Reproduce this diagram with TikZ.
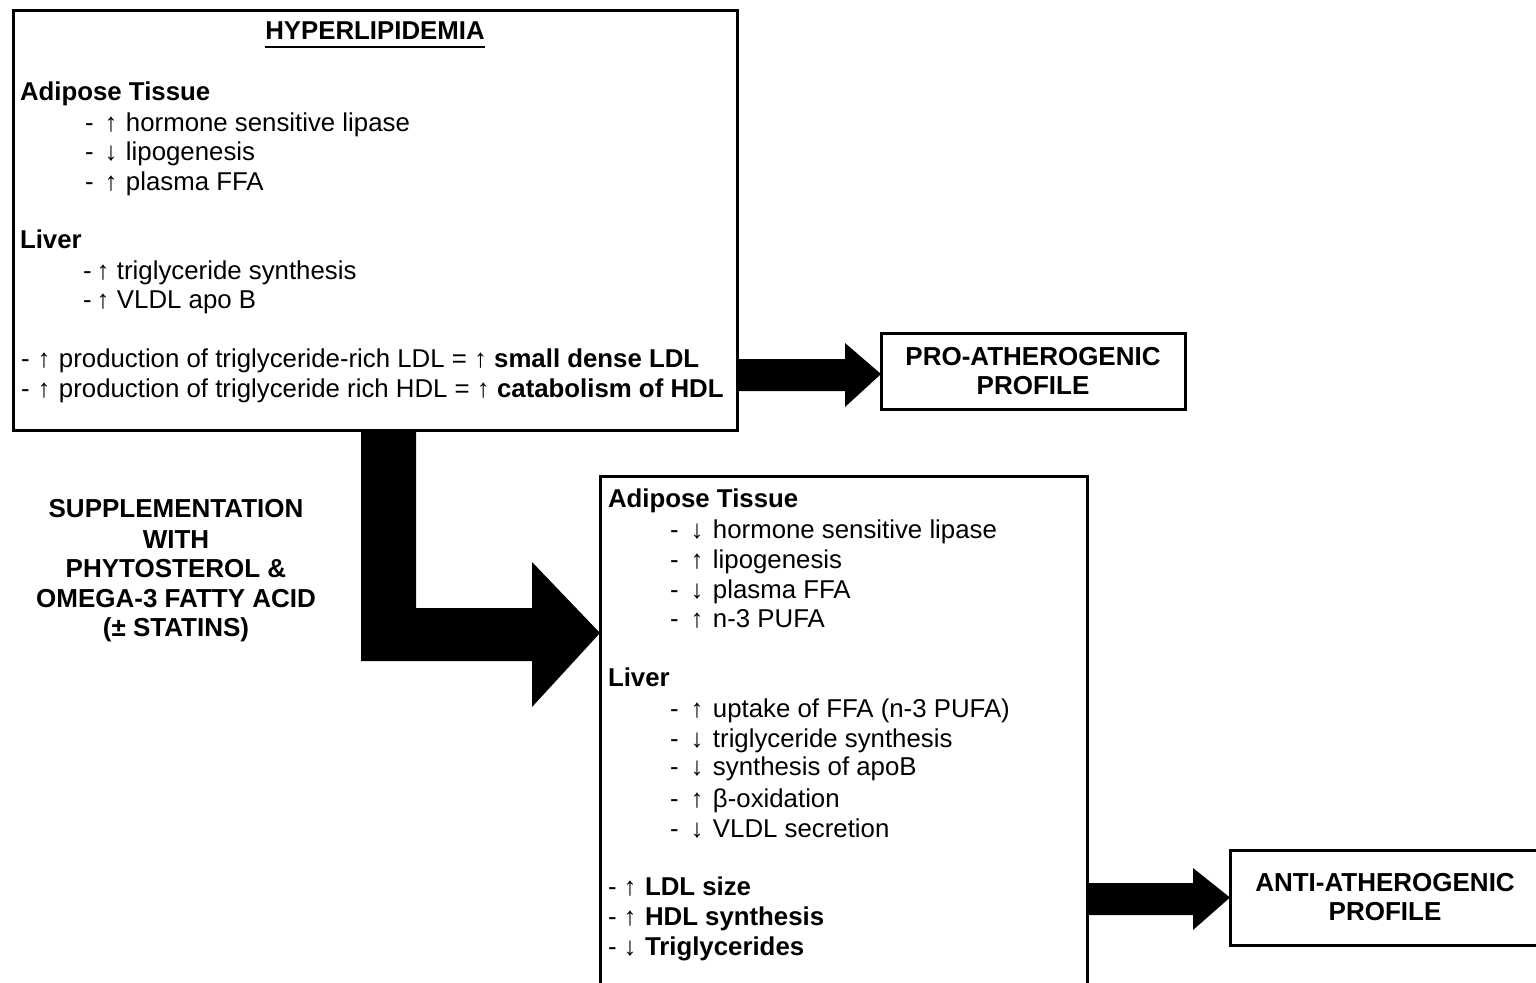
\documentclass[tikz,border=0pt]{standalone}
\usepackage{fontspec}
\setmainfont{Liberation Sans}
\usetikzlibrary{calc}
\newcommand\bodyf{\fontsize{12.9pt}{14.9pt}\selectfont}
\newcommand\capf{\fontsize{13pt}{14.5pt}\selectfont\bfseries}
\newcommand\itm[4]{\makebox[#1][l]{-}\makebox[#2][c]{#3}#4}
\begin{document}
\begin{tikzpicture}[x=0.5pt,y=-0.5pt,
  box/.style={draw, line width=1.5pt, inner sep=0pt, outer sep=0pt, anchor=north west},
  txt/.style={anchor=base west, inner sep=0pt, outer sep=0pt, font=\bodyf},
  hd/.style={txt, font=\bodyf\bfseries},
  capbox/.style={inner sep=0pt, font=\capf, align=center},
  captxt/.style={anchor=base, inner sep=0pt, font=\capf},
  fat/.style={fill=black}]
\clip (0,0) rectangle (1536,982);
\fill[white] (0,0) rectangle (1536,982);
% boxes
\node[box, minimum width=362pt, minimum height=210pt] (hyper) at (13,10) {};
\node[box, capbox, minimum width=152pt, minimum height=38pt] (pro) at (881,333) {PRO-ATHEROGENIC\\PROFILE};
\node[box, minimum width=243.5pt, minimum height=270pt] (lower) at (600,476) {};
\node[box, capbox, minimum width=155pt, minimum height=47.5pt] (anti) at (1230,850) {ANTI-ATHEROGENIC\\PROFILE};
% top box text
\node[anchor=base, inner sep=0pt, font=\bodyf\bfseries] (title) at (375,39) {HYPERLIPIDEMIA};
\draw[line width=1.1pt] ($(title.base west)+(0,8)$) -- ($(title.base east)+(0,8)$);
\node[hd] (h1) at (20,100) {Adipose Tissue};
\node[txt] (h2) at (85,131) {\itm{5.5pt}{15pt}{↑}{hormone sensitive lipase}};
\node[txt] (h3) at (85,160) {\itm{5.5pt}{15pt}{↓}{lipogenesis}};
\node[txt] (h4) at (85,190) {\itm{5.5pt}{15pt}{↑}{plasma FFA}};
\node[hd] (h5) at (20,248) {Liver};
\node[txt] (h6) at (83,279) {\itm{3pt}{14pt}{↑}{triglyceride synthesis}};
\node[txt] (h7) at (83,308) {\itm{3pt}{14pt}{↑}{VLDL apo B}};
\node[txt] (h8) at (21,367) {\itm{4pt}{15pt}{↑}{production of triglyceride-rich LDL = ↑ \textbf{small dense LDL}}};
\node[txt] (h9) at (21,397) {\itm{4pt}{15pt}{↑}{production of triglyceride rich HDL = ↑ \textbf{catabolism of HDL}}};
% supplementation text
\node[captxt] (s1) at (176,517) {SUPPLEMENTATION};
\node[captxt] (s2) at (176,548) {WITH};
\node[captxt] (s3) at (176,577) {PHYTOSTEROL \&};
\node[captxt] (s4) at (176,607) {OMEGA-3 FATTY ACID};
\node[captxt] (s5) at (176,636) {(± STATINS)};
% lower box text
\node[hd] (l1) at (608,507) {Adipose Tissue};
\node[txt] (l2) at (670,538) {\itm{5.5pt}{16pt}{↓}{hormone sensitive lipase}};
\node[txt] (l3) at (670,568) {\itm{5.5pt}{16pt}{↑}{lipogenesis}};
\node[txt] (l4) at (670,598) {\itm{5.5pt}{16pt}{↓}{plasma FFA}};
\node[txt] (l5) at (670,627) {\itm{5.5pt}{16pt}{↑}{n-3 PUFA}};
\node[hd] (l6) at (608,686) {Liver};
\node[txt] (l7) at (670,717) {\itm{5.5pt}{16pt}{↑}{uptake of FFA (n-3 PUFA)}};
\node[txt] (l8) at (670,747) {\itm{5.5pt}{16pt}{↓}{triglyceride synthesis}};
\node[txt] (l9) at (670,775) {\itm{5.5pt}{16pt}{↓}{synthesis of apoB}};
\node[txt] (l10) at (670,807) {\itm{5.5pt}{16pt}{↑}{β-oxidation}};
\node[txt] (l11) at (670,837) {\itm{5.5pt}{16pt}{↓}{VLDL secretion}};
\node[txt] (l12) at (608,895) {\itm{3.5pt}{15pt}{↑}{\textbf{LDL size}}};
\node[txt] (l13) at (608,925) {\itm{3.5pt}{15pt}{↑}{\textbf{HDL synthesis}}};
\node[txt] (l14) at (608,955) {\itm{3.5pt}{15pt}{↓}{\textbf{Triglycerides}}};
% fat arrows
\fill[fat] ($(hyper.north east)+(0,349)$) -- (845,359) -- (845,343) -- ($(pro.west)+(0,3)$)
  -- (845,407) -- (845,391) -- ($(hyper.north east)+(0,381)$) -- cycle;
\fill[fat] ($(hyper.south west)+(348,0)$) -- ($(hyper.south west)+(403,0)$) -- (416,608) -- (532,608)
  -- (532,562) -- ($(lower.north west)+(0,157)$) -- (532,707) -- (532,661) -- (361,661) -- cycle;
\fill[fat] ($(lower.north east)+(0,407)$) -- (1193,883) -- (1193,868) -- (anti.west)
  -- (1193,930) -- (1193,915) -- ($(lower.north east)+(0,439)$) -- cycle;
\end{tikzpicture}
\end{document}
